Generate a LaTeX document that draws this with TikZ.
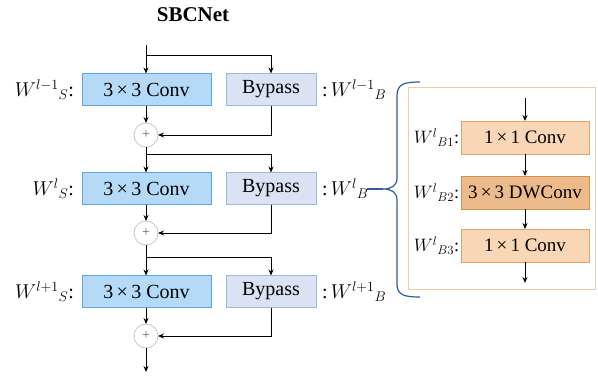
\RequirePackage{fix-cm}
\documentclass[tikz,border=0pt]{standalone}
\usepackage{fontspec}
\setmainfont{Liberation Serif}
\usetikzlibrary{arrows.meta}
\definecolor{convfill}{HTML}{B5DAF8}
\definecolor{convdraw}{HTML}{5CA6E6}
\definecolor{bypfill}{HTML}{DAE3F3}
\definecolor{bypdraw}{HTML}{9EB7DB}
\definecolor{orfill}{HTML}{F8D6B6}
\definecolor{ordraw}{HTML}{DFA36A}
\definecolor{dwfill}{HTML}{EDBB8B}
\definecolor{dwdraw}{HTML}{D29150}
\definecolor{frame}{HTML}{F1CCA4}
\definecolor{bracecol}{HTML}{2F5E97}
\begin{document}
\begin{tikzpicture}[x=1pt,y=-1pt,
  every node/.style={inner sep=0pt,outer sep=0pt},
  conv/.style={draw=convdraw,fill=convfill,line width=1pt,minimum width=129pt,minimum height=32pt,font=\fontsize{20}{24}\selectfont},
  byp/.style={draw=bypdraw,fill=bypfill,line width=1pt,minimum width=90pt,minimum height=32pt,font=\fontsize{20}{24}\selectfont},
  obox/.style={draw=ordraw,fill=orfill,line width=1pt,minimum width=128pt,minimum height=33pt,font=\fontsize{19}{23}\selectfont},
  dwbox/.style={draw=dwdraw,fill=dwfill,line width=1pt,minimum width=128pt,minimum height=33pt,font=\fontsize{19}{23}\selectfont},
  plusnode/.style={circle,draw=black!22,fill=white,line width=0.8pt,minimum size=24pt,font=\fontsize{14}{16}\selectfont\color{black!60}},
  lab/.style={font=\fontsize{20}{24}\selectfont},
  slab/.style={font=\fontsize{18}{22}\selectfont},
  arr/.style={-{Stealth[length=6pt,width=5pt]},line width=0.9pt},
  ln/.style={line width=0.9pt}]
\useasboundingbox (0,0) rectangle (598,378);

\node[font=\fontsize{21}{25}\selectfont\bfseries] (title) at (193,15) {SBCNet};

% left column
\coordinate (start) at (146,45);
\node[conv] (c1) at (146.5,89.5) {3\,×\,3 Conv};
\node[byp] (b1) at (271,89.5) {Bypass};
\node[plusnode] (p1) at (146,135) {+};
\node[conv] (c2) at (146.5,188.5) {3\,×\,3 Conv};
\node[byp] (b2) at (271,188.5) {Bypass};
\node[plusnode] (p2) at (146,233) {+};
\node[conv] (c3) at (146.5,291.5) {3\,×\,3 Conv};
\node[byp] (b3) at (271,291.5) {Bypass};
\node[plusnode] (p3) at (146,336) {+};
\coordinate (end) at (146,372);

\draw[arr] (start) -- (start |- c1.north);
\draw[arr] (start |- 0,55) -| (b1.north);
\draw[arr] (p1.south) -- (p1.south |- c2.north);
\draw[arr] (p1.south |- 0,154) -| (b2.north);
\draw[arr] (p2.south) -- (p2.south |- c3.north);
\draw[arr] (p2.south |- 0,257) -| (b3.north);
\draw[arr] (p3.south) -- (end);

\draw[arr] (c1.south -| p1) -- (p1.north);
\draw[arr] (c2.south -| p2) -- (p2.north);
\draw[arr] (c3.south -| p3) -- (p3.north);
\draw[arr] (b1.south) |- (p1.east);
\draw[arr] (b2.south) |- (p2.east);
\draw[arr] (b3.south) |- (p3.east);

% labels
\node[lab,anchor=east] (l1) at (74,89.5) {$W^{l-1}{}_{S}$:};
\node[lab,anchor=east] (l2) at (74,188.5) {$W^{l}{}_{S}$:};
\node[lab,anchor=east] (l3) at (74,291.5) {$W^{l+1}{}_{S}$:};
\node[lab,anchor=west] (r1) at (322,89.5) {:\,$W^{l-1}{}_{B}$};
\node[lab,anchor=west] (r2) at (322,188.5) {:\,$W^{l}{}_{B}$};
\node[lab,anchor=west] (r3) at (322,291.5) {:\,$W^{l+1}{}_{B}$};

% brace
\coordinate (tip) at (383,189);
\coordinate (lead) at (367,189);
\draw[bracecol,line width=1.2pt] (420,82) .. controls (404,82) and (397,84) .. (397,96) -- (397,178)
  .. controls (397,186) and (391,189) .. (tip) .. controls (391,189) and (397,192) .. (397,200)
  -- (397,284) .. controls (397,295) and (404,297) .. (420,297);
\draw[bracecol,line width=1.2pt] (lead) -- (tip);

% right frame
\node[draw=frame,line width=1pt,minimum width=187pt,minimum height=202pt] (frm) at (501.5,188) {};
\coordinate (in) at (525,98);
\node[obox] (o1) at (525,137.5) {1\,×\,1 Conv};
\node[dwbox] (o2) at (525,192.5) {3\,×\,3 DWConv};
\node[obox] (o3) at (525,245.5) {1\,×\,1 Conv};
\coordinate (out) at (525,283);
\draw[arr] (in) -- (o1.north);
\draw[arr] (o1.south) -- (o2.north);
\draw[arr] (o2.south) -- (o3.north);
\draw[arr] (o3.south) -- (out);
\node[slab,anchor=east] (ol1) at (459,137.5) {$W^{l}{}_{B1}$:};
\node[slab,anchor=east] (ol2) at (459,192.5) {$W^{l}{}_{B2}$:};
\node[slab,anchor=east] (ol3) at (459,245.5) {$W^{l}{}_{B3}$:};
\end{tikzpicture}
\end{document}
